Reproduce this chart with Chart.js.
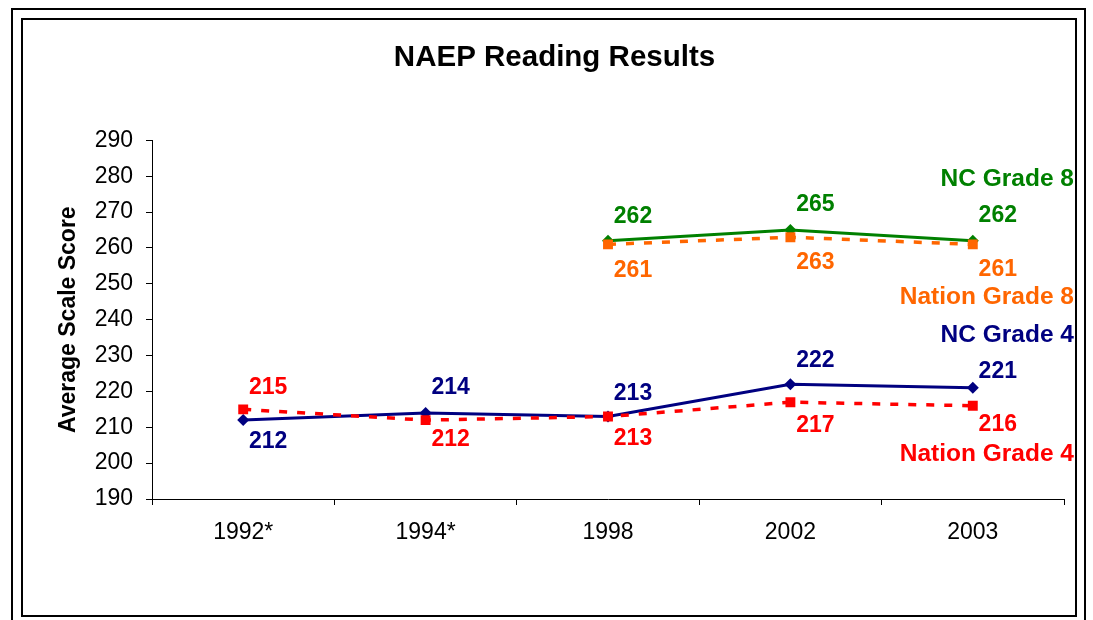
<!DOCTYPE html>
<html>
<head>
<meta charset="utf-8">
<script src="https://cdn.jsdelivr.net/npm/chart.js@4/dist/chart.umd.min.js"></script>
<style>
  html, body { margin:0; padding:0; background:#fff; }
  #wrap { width:1093px; height:620px; position:relative; }
</style>
</head>
<body>
<div id="wrap"><canvas id="naep" width="1093" height="620"></canvas></div>
<script>
// values
var years = ['1992*', '1994*', '1998', '2002', '2003'];
var ncGrade4 = [212, 214, 213, 222, 221];
var nationGrade4 = [215, 212, 213, 217, 216];
var ncGrade8 = [null, null, 262, 265, 262];
var nationGrade8 = [null, null, 261, 263, 261];
var yTicks = [190, 200, 210, 220, 230, 240, 250, 260, 270, 280, 290];

// where each value label sits relative to its point (pixels, + = below)
var dyNC4 = [22, -25, -23, -24, -16];
var dyNation4 = [-22, 20, 22, 23, 19];
var dyNC8 = [0, 0, -24, -25, -25];
var dyNation8 = [0, 0, 26, 25, 25];

var FONT = "'Liberation Sans', Arial, sans-serif";

// value labels next to each point
var valueLabels = {
  id: 'valueLabels',
  afterDatasetsDraw: function(chart){
    var ctx = chart.ctx;
    ctx.save();
    ctx.font = 'bold 23px ' + FONT;
    ctx.textAlign = 'center';
    ctx.textBaseline = 'middle';
    chart.data.datasets.forEach(function(ds, i){
      var meta = chart.getDatasetMeta(i);
      meta.data.forEach(function(pt, j){
        if(ds.data[j] == null) return;
        ctx.fillStyle = ds.borderColor;
        ctx.fillText(ds.data[j], pt.x + 25, pt.y + ds.labelDy[j]);
      });
    });
    ctx.restore();
  }
};

// series names at the right end, placed on the value scale
var seriesNames = {
  id: 'seriesNames',
  afterDatasetsDraw: function(chart){
    var ctx = chart.ctx;
    var ys = chart.scales.y;
    ctx.save();
    ctx.font = 'bold 24.5px ' + FONT;
    ctx.textAlign = 'right';
    ctx.textBaseline = 'middle';
    chart.data.datasets.forEach(function(ds){
      ctx.fillStyle = ds.borderColor;
      ctx.fillText(ds.label, chart.width - 19, ys.getPixelForValue(ds.nameAt));
    });
    ctx.restore();
  }
};

// white page + double frame
var frame = {
  id: 'frame',
  beforeDraw: function(chart){
    var ctx = chart.ctx;
    ctx.save();
    ctx.fillStyle = '#fff';
    ctx.fillRect(0, 0, chart.width, chart.height);
    ctx.strokeStyle = '#000';
    ctx.lineWidth = 2;
    ctx.strokeRect(12, 9, 1073, 640);
    ctx.strokeRect(22, 19, 1054, 597);
    ctx.restore();
  }
};

var ctx = document.getElementById('naep').getContext('2d');
var myChart = new Chart(ctx, {
  type: 'line',
  data: {
    labels: years,
    datasets: [
      {
        label: 'Nation Grade 8', data: nationGrade8, labelDy: dyNation8, nameAt: 246.2,
        borderColor: '#FF6600', backgroundColor: '#FF6600', borderWidth: 3.5, borderDash: [8, 10],
        pointStyle: 'rect', pointRadius: 7, pointBorderWidth: 0, tension: 0
      },
      {
        label: 'Nation Grade 4', data: nationGrade4, labelDy: dyNation4, nameAt: 202.5,
        borderColor: '#FF0000', backgroundColor: '#FF0000', borderWidth: 3.5, borderDash: [8, 10],
        pointStyle: 'rect', pointRadius: 7, pointBorderWidth: 0, tension: 0
      },
      {
        label: 'NC Grade 8', data: ncGrade8, labelDy: dyNC8, nameAt: 279.1,
        borderColor: '#008000', backgroundColor: '#008000', borderWidth: 3,
        pointStyle: 'rectRot', pointRadius: 6, pointBorderWidth: 0, tension: 0
      },
      {
        label: 'NC Grade 4', data: ncGrade4, labelDy: dyNC4, nameAt: 235.7,
        borderColor: '#000080', backgroundColor: '#000080', borderWidth: 3,
        pointStyle: 'rectRot', pointRadius: 6, pointBorderWidth: 0, tension: 0
      }
    ]
  },
  options: {
    responsive: false,
    animation: false,
    layout: { padding: { left: 45, right: 29, top: 0, bottom: 0 } },
    plugins: {
      legend: { display: false },
      tooltip: { enabled: false },
      title: {
        display: true,
        text: 'NAEP Reading Results',
        color: '#000',
        font: { family: FONT, size: 29.5, weight: 'bold' },
        padding: { top: 40, bottom: 65 }
      }
    },
    scales: {
      x: {
        offset: true,
        afterFit: function(s){ s.height = 121; },
        grid: { display: true, drawOnChartArea: false, drawTicks: true, tickLength: 6, color: '#000', offset: true },
        border: { color: '#000', width: 1 },
        ticks: { color: '#000', padding: 14, font: { family: FONT, size: 23 } }
      },
      y: {
        min: yTicks[0],
        max: yTicks[yTicks.length - 1],
        afterFit: function(s){ s.width = 107; },
        afterBuildTicks: function(s){ s.ticks = yTicks.map(function(v){ return { value: v }; }); },
        grid: { display: true, drawOnChartArea: false, drawTicks: true, tickLength: 6, color: '#000' },
        border: { color: '#000', width: 1 },
        ticks: { color: '#000', padding: 13, font: { family: FONT, size: 23 } },
        title: {
          display: true,
          text: 'Average Scale Score',
          color: '#000',
          font: { family: FONT, size: 23, weight: 'bold' },
          padding: { top: 10, bottom: 0 }
        }
      }
    }
  },
  plugins: [frame, valueLabels, seriesNames]
});
</script>
</body>
</html>
